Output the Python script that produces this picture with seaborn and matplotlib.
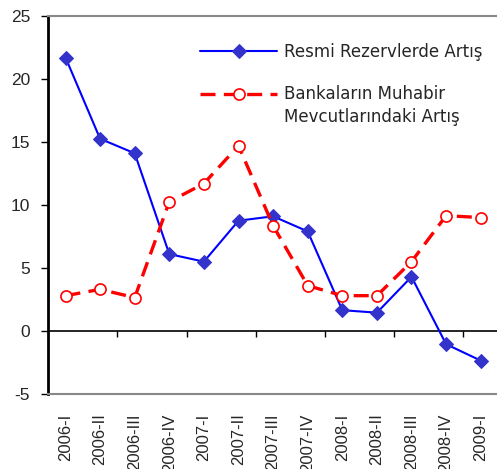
import matplotlib
matplotlib.use("Agg")
import matplotlib.pyplot as plt
import pandas as pd
import seaborn as sns
from matplotlib.legend_handler import HandlerLine2D

quarters = ["2006-I", "2006-II", "2006-III", "2006-IV", "2007-I", "2007-II", "2007-III",
            "2007-IV", "2008-I", "2008-II", "2008-III", "2008-IV", "2009-I"]
resmi_rezerv = [21.7, 15.25, 14.1, 6.1, 5.5, 8.75, 9.1, 7.9, 1.65, 1.45, 4.3, -1.05, -2.35]
muhabir_mevcut = [2.8, 3.3, 2.65, 10.25, 11.7, 14.7, 8.35, 3.6, 2.8, 2.8, 5.5, 9.15, 9.0]
label_resmi = "Resmi Rezervlerde Artış"
label_muhabir = "Bankaların Muhabir\nMevcutlarındaki Artış"
y_ticks = [-5, 0, 5, 10, 15, 20, 25]

sns.set_theme(style="white")
plt.rcParams["font.family"] = ["Liberation Sans", "DejaVu Sans"]
plt.rcParams["axes.unicode_minus"] = False


class RaisedLine(HandlerLine2D):
    # put the legend line next to the first row of a two-row label
    def __init__(self, shift, **kw):
        super().__init__(**kw)
        self.shift = shift

    def create_artists(self, legend, orig_handle, xdescent, ydescent, width, height, fontsize, trans):
        return super().create_artists(legend, orig_handle, xdescent, ydescent, width,
                                      height + 2 * self.shift, fontsize, trans)


df = pd.DataFrame({"pos": range(len(quarters)), "resmi": resmi_rezerv, "muhabir": muhabir_mevcut})

fig = plt.figure(figsize=(4.97, 4.69), dpi=100)
ax = fig.add_axes([0.097, 0.16, 0.905, 0.806])

sns.lineplot(data=df, x="pos", y="resmi", ax=ax, color="#0000ff", linewidth=1.5,
             marker="D", markersize=7, markerfacecolor="#3333cc", markeredgecolor="#3333cc",
             label=label_resmi)
sns.lineplot(data=df, x="pos", y="muhabir", ax=ax, color="#ff0000", linewidth=2.4,
             linestyle=(0, (4.5, 2.5)), marker="o", markersize=8, markerfacecolor="white",
             markeredgecolor="#ff0000", markeredgewidth=1.2, label=label_muhabir)

n = len(quarters)
ax.set_xlim(-0.5, n - 0.5)
ax.set_ylim(-5, 25)
ax.set_yticks(y_ticks)
ax.set_xticks(range(n))
ax.set_xticklabels(quarters, rotation=90, fontsize=12)
ax.tick_params(axis="x", length=0, pad=14)
ax.tick_params(axis="y", direction="out", length=5, width=1, color="black", labelsize=12.5,
               left=True, pad=8)
ax.set_xlabel("")
ax.set_ylabel("")

# zero line with tick marks between every second category
ax.axhline(0, color="black", linewidth=1.2, zorder=1)
ax.vlines([i + 1.5 for i in range(0, n - 1, 2)], -0.45, 0, color="black", linewidth=1, zorder=1)

ax.spines["left"].set_color("black")
ax.spines["left"].set_linewidth(2)
ax.spines["top"].set_color("#888888")
ax.spines["top"].set_linewidth(1.5)
ax.spines["bottom"].set_color("#888888")
ax.spines["bottom"].set_linewidth(1.5)
ax.spines["right"].set_visible(False)

handles, labels = ax.get_legend_handles_labels()
leg = ax.legend(handles, labels, loc="upper left", bbox_to_anchor=(0.338, 0.928), frameon=False,
                borderpad=0, borderaxespad=0, handlelength=4.6, labelspacing=1.45,
                handletextpad=0.42, prop={"family": ["DejaVu Sans"], "size": 12},
                handler_map={handles[1]: RaisedLine(9.5)})
for t in leg.get_texts():
    t.set_linespacing(1.35)

fig.savefig("out.png", dpi=100)
